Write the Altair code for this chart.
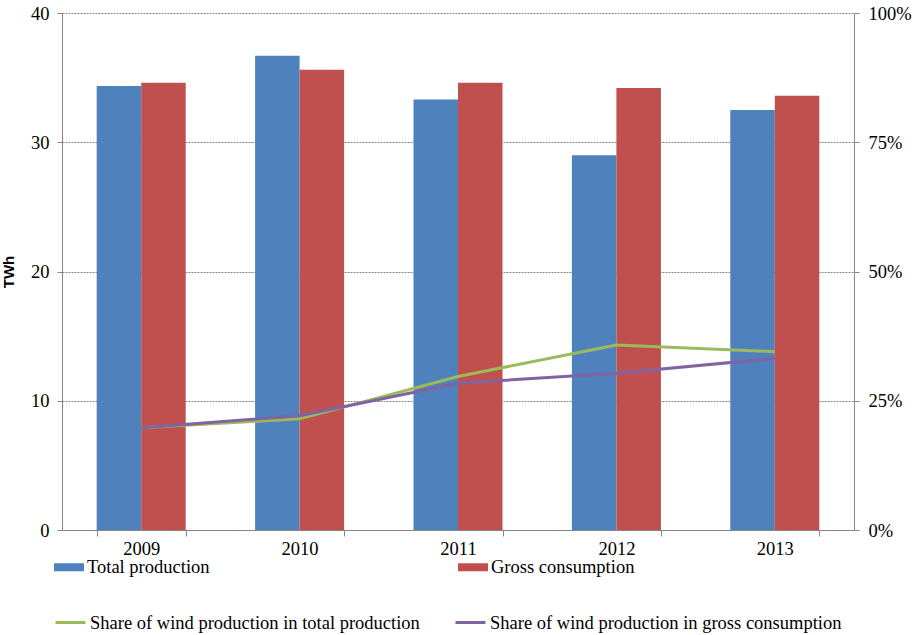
import altair as alt
import pandas as pd

# Annual figures
years = ["2009", "2010", "2011", "2012", "2013"]
total_production = [34.35, 36.7, 33.3, 29.0, 32.5]      # TWh
gross_consumption = [34.6, 35.6, 34.6, 34.2, 33.6]      # TWh
share_in_total = [19.8, 21.5, 29.7, 35.8, 34.5]         # %
share_in_gross = [19.8, 22.1, 28.4, 30.3, 33.2]         # %

bar_names = ["Total production", "Gross consumption"]
bar_colors = ["#4F81BD", "#C0504D"]
line_names = ["Share of wind production in total production",
              "Share of wind production in gross consumption"]
line_colors = ["#9BBB59", "#8064A2"]

bar_df = pd.DataFrame(
    [{"year": y, "series": bar_names[0], "value": v} for y, v in zip(years, total_production)]
    + [{"year": y, "series": bar_names[1], "value": v} for y, v in zip(years, gross_consumption)]
)
line_df = pd.DataFrame(
    [{"year": y, "series": line_names[0], "share": v} for y, v in zip(years, share_in_total)]
    + [{"year": y, "series": line_names[1], "share": v} for y, v in zip(years, share_in_gross)]
)

SERIF = "Times New Roman, Liberation Serif, serif"
AXIS_GREY = "#868686"
FS = 18.5

x_enc = alt.X(
    "year:N",
    sort=years,
    scale=alt.Scale(paddingInner=0.438, paddingOuter=0.219),
    axis=alt.Axis(
        title=None, labelAngle=0, tickBand="extent", domainColor=AXIS_GREY,
        tickColor=AXIS_GREY, tickSize=6, labelPadding=3, labelFont=SERIF,
        labelFontSize=FS, labelColor="black",
    ),
)

bars = alt.Chart(bar_df).mark_bar().encode(
    x=x_enc,
    xOffset=alt.XOffset("series:N", sort=bar_names,
                        scale=alt.Scale(paddingInner=0, paddingOuter=0)),
    y=alt.Y(
        "value:Q",
        scale=alt.Scale(domain=[0, 40], nice=False),
        axis=alt.Axis(
            title="TWh", values=[0, 10, 20, 30, 40], grid=True, gridDash=[2, 1],
            gridColor=AXIS_GREY, gridWidth=1, domainColor=AXIS_GREY,
            tickColor=AXIS_GREY, tickSize=5, labelPadding=8, labelFont=SERIF,
            labelFontSize=FS, labelColor="black", titleFont="Liberation Sans",
            titleFontSize=15, titleFontWeight="bold", titleColor="black",
            titlePadding=14,
        ),
    ),
    color=alt.Color(
        "series:N",
        sort=bar_names,
        scale=alt.Scale(domain=bar_names, range=bar_colors),
        legend=alt.Legend(
            title=None, orient="none", legendX=-8, legendY=539,
            direction="horizontal", columns=2, columnPadding=248,
            symbolType="M-1,-0.267H1V0.267H-1Z", symbolSize=900,
            symbolStrokeWidth=0, symbolOpacity=1, labelFont=SERIF,
            labelFontSize=FS, labelColor="black", labelOffset=3, labelLimit=0,
        ),
    ),
)

lines = alt.Chart(line_df).mark_line(strokeWidth=3).encode(
    x=alt.X("year:N", sort=years, bandPosition=0.5),
    y=alt.Y(
        "share:Q",
        scale=alt.Scale(domain=[0, 100], nice=False),
        axis=alt.Axis(
            orient="right", title=None, values=[0, 25, 50, 75, 100], grid=False,
            labelExpr="datum.value + '%'", domainColor=AXIS_GREY,
            tickColor=AXIS_GREY, tickSize=5, labelPadding=9, labelFont=SERIF,
            labelFontSize=FS, labelColor="black",
        ),
    ),
    stroke=alt.Stroke(
        "series:N",
        sort=line_names,
        scale=alt.Scale(domain=line_names, range=line_colors),
        legend=alt.Legend(
            title=None, orient="none", legendX=-8, legendY=593,
            direction="horizontal", columns=2, columnPadding=29,
            symbolType="stroke", symbolSize=900, symbolStrokeWidth=3,
            labelFont=SERIF, labelFontSize=FS, labelColor="black",
            labelOffset=3, labelLimit=0,
        ),
    ),
)

chart = (
    alt.layer(bars, lines)
    .resolve_scale(y="independent", color="independent")
    .properties(
        width=792,
        height=517,
        autosize=alt.AutoSizeParams(type="none"),
        padding={"left": 62, "top": 13, "right": 58, "bottom": 105},
        background="white",
    )
    .configure_view(stroke=None)
)

chart.save("out.html", embed_options={"renderer": "svg", "actions": False})
